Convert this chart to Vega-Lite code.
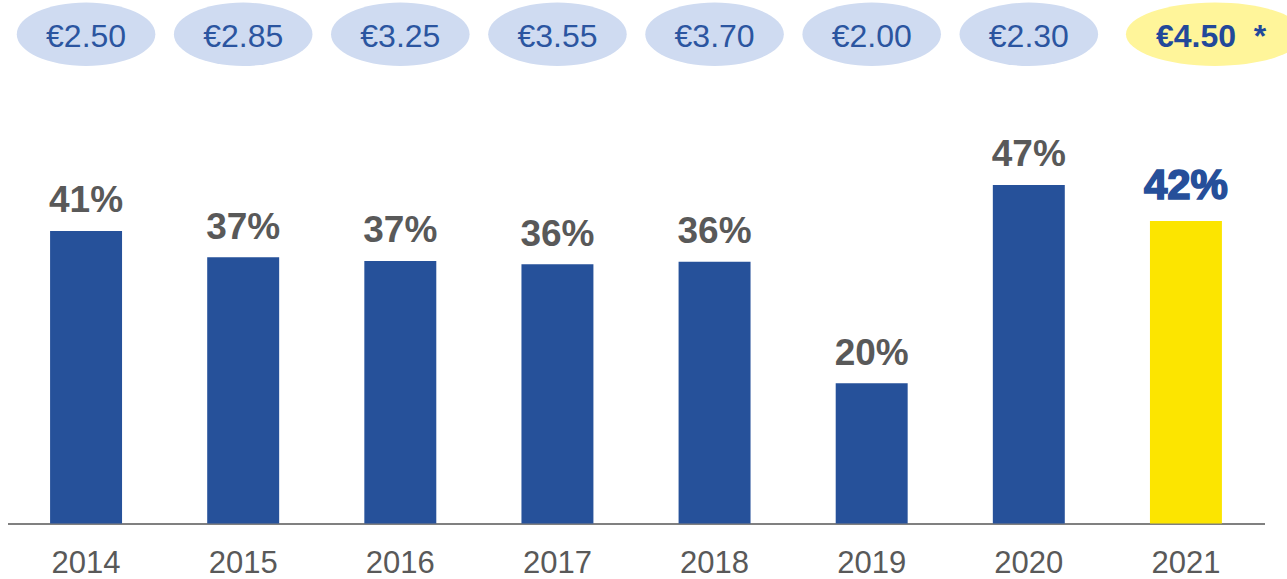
{
  "$schema": "https://vega.github.io/schema/vega-lite/v6.json",
  "autosize": "none",
  "padding": {"left": 7.5, "top": 0, "right": 22.5, "bottom": 55.5},
  "width": 1257,
  "height": 523.5,
  "background": "white",
  "config": {"view": {"stroke": null}, "font": "Liberation Sans"},
  "data": {
    "values": [
      {"year": "2014", "share": 40.74, "label": "41%", "price": "€2.50", "current": false},
      {"year": "2015", "share": 37.08, "label": "37%", "price": "€2.85", "current": false},
      {"year": "2016", "share": 36.56, "label": "37%", "price": "€3.25", "current": false},
      {"year": "2017", "share": 36.1, "label": "36%", "price": "€3.55", "current": false},
      {"year": "2018", "share": 36.46, "label": "36%", "price": "€3.70", "current": false},
      {"year": "2019", "share": 19.53, "label": "20%", "price": "€2.00", "current": false},
      {"year": "2020", "share": 47.14, "label": "47%", "price": "€2.30", "current": false},
      {"year": "2021", "share": 42.13, "label": "42%", "price": "€4.50\u00a0\u00a0*", "current": true}
    ]
  },
  "encoding": {
    "x": {
      "field": "year",
      "type": "nominal",
      "sort": null,
      "scale": {"paddingInner": 0.542, "paddingOuter": 0.271},
      "axis": {
        "title": null,
        "labelAngle": 0,
        "ticks": false,
        "domainColor": "#808080",
        "domainWidth": 2,
        "labelFont": "Liberation Sans",
        "labelFontSize": 31,
        "labelColor": "#595959",
        "labelBaseline": "alphabetic",
        "labelPadding": 49
      }
    }
  },
  "layer": [
    {
      "mark": {"type": "bar"},
      "encoding": {
        "y": {"field": "share", "type": "quantitative", "scale": {"domain": [0, 72.9], "nice": false}, "axis": null},
        "color": {"field": "current", "type": "nominal", "scale": {"domain": [false, true], "range": ["#26519a", "#fce500"]}, "legend": null}
      }
    },
    {
      "transform": [{"filter": "!datum.current"}],
      "mark": {"type": "text", "baseline": "alphabetic", "dy": -18.5, "font": "Liberation Sans", "fontWeight": "bold", "fontSize": 37, "color": "#595959"},
      "encoding": {
        "y": {"field": "share", "type": "quantitative"},
        "text": {"field": "label"}
      }
    },
    {
      "transform": [{"filter": "datum.current"}],
      "mark": {"type": "text", "baseline": "alphabetic", "dy": -21.5, "font": "Liberation Sans", "fontWeight": "bold", "fontSize": 42, "color": "#264f9a", "stroke": "#264f9a", "strokeWidth": 1.6},
      "encoding": {
        "y": {"field": "share", "type": "quantitative"},
        "text": {"field": "label"}
      }
    },
    {
      "transform": [{"filter": "!datum.current"}],
      "mark": {"type": "point", "filled": true, "opacity": 1, "color": "#cfdbf1", "size": 19200,
        "shape": "M-1,0C-1,-0.2524,-0.5523,-0.457,0,-0.457C0.5523,-0.457,1,-0.2524,1,0C1,0.2524,0.5523,0.457,0,0.457C-0.5523,0.457,-1,0.2524,-1,0Z"},
      "encoding": {"y": {"datum": 68.13, "type": "quantitative"}}
    },
    {
      "transform": [{"filter": "datum.current"}],
      "mark": {"type": "point", "filled": true, "opacity": 1, "color": "#fff59a", "size": 31684, "xOffset": 29,
        "shape": "M-1,0C-1,-0.1966,-0.5523,-0.356,0,-0.356C0.5523,-0.356,1,-0.1966,1,0C1,0.1966,0.5523,0.356,0,0.356C-0.5523,0.356,-1,0.1966,-1,0Z"},
      "encoding": {"y": {"datum": 68.13, "type": "quantitative"}}
    },
    {
      "transform": [{"filter": "!datum.current"}],
      "mark": {"type": "text", "baseline": "alphabetic", "dy": 12.4, "font": "Liberation Sans", "fontSize": 32, "color": "#2b55a0"},
      "encoding": {
        "y": {"datum": 68.13, "type": "quantitative"},
        "text": {"field": "price"}
      }
    },
    {
      "transform": [{"filter": "datum.current"}],
      "mark": {"type": "text", "baseline": "alphabetic", "align": "left", "dx": -30, "dy": 12.4, "font": "Liberation Sans", "fontWeight": "bold", "fontSize": 32, "color": "#22489a"},
      "encoding": {
        "y": {"datum": 68.13, "type": "quantitative"},
        "text": {"field": "price"}
      }
    }
  ]
}
